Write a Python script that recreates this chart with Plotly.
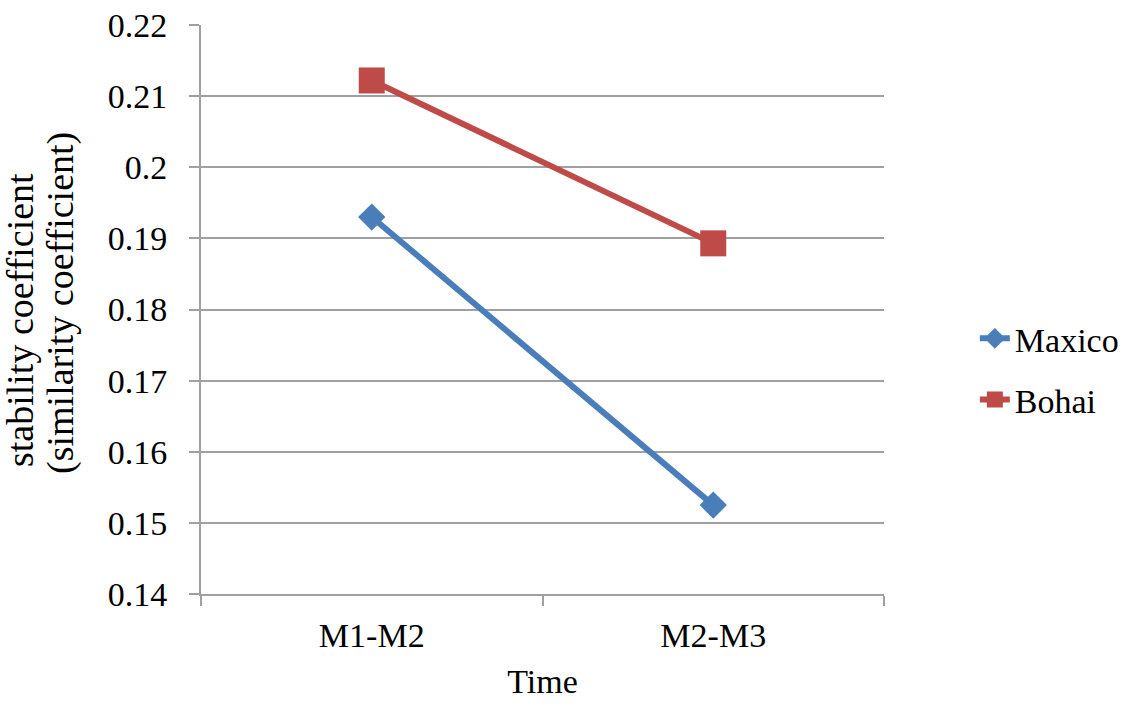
import plotly.graph_objects as go

# Data
periods = ["M1-M2", "M2-M3"]
maxico = [0.1930, 0.1525]
bohai = [0.2122, 0.1893]
y_tickvals = [0.14, 0.15, 0.16, 0.17, 0.18, 0.19, 0.20, 0.21, 0.22]
y_ticktext = ["0.14", "0.15", "0.16", "0.17", "0.18", "0.19", "0.2", "0.21", "0.22"]

FONT = "Liberation Serif"
AXIS_GREY = "#a0a0a0"

fig = go.Figure()
fig.add_trace(go.Scatter(
    x=periods, y=maxico, name="Maxico", mode="lines+markers",
    line=dict(color="#4a7ebb", width=6),
    marker=dict(symbol="diamond", size=21, color="#4a7ebb"),
    legendgroup="a",
))
fig.add_trace(go.Scatter(
    x=periods, y=bohai, name="Bohai", mode="lines+markers",
    line=dict(color="#be4b48", width=6),
    marker=dict(symbol="square", size=26, color="#be4b48"),
    legendgroup="b",
))

fig.update_layout(
    width=1126, height=706,
    margin=dict(l=201, r=242, t=25, b=112, autoexpand=False),
    paper_bgcolor="white", plot_bgcolor="white",
    font=dict(family=FONT, size=34, color="black"),
    showlegend=True,
    legend=dict(
        x=1.133, y=0.395, xanchor="left", yanchor="middle",
        traceorder="grouped", tracegroupgap=14,
        font=dict(family=FONT, size=34, color="black"),
        bgcolor="rgba(0,0,0,0)",
    ),
    xaxis=dict(
        type="category", range=[-0.5, 1.5],
        tickson="boundaries", ticks="outside", ticklen=10, tickwidth=2,
        tickcolor=AXIS_GREY, showline=True, linecolor=AXIS_GREY, linewidth=2,
        showgrid=False, zeroline=False,
        tickfont=dict(family=FONT, size=34, color="black"),
        ticklabelstandoff=10,
        title=dict(text="Time", font=dict(family=FONT, size=34, color="black"), standoff=16),
    ),
    yaxis=dict(
        range=[0.14, 0.22], tickvals=y_tickvals, ticktext=y_ticktext,
        ticks="outside", ticklen=10, tickwidth=2, tickcolor=AXIS_GREY,
        showline=True, linecolor=AXIS_GREY, linewidth=2,
        showgrid=True, gridcolor=AXIS_GREY, gridwidth=2, zeroline=False,
        tickfont=dict(family=FONT, size=34, color="black"),
        ticklabelstandoff=15,
    ),
)

# Two-line vertical axis title
fig.add_annotation(
    text="stability coefficient", xref="paper", yref="paper",
    x=-0.266, y=0.482, showarrow=False, textangle=-90,
    xanchor="center", yanchor="middle",
    font=dict(family=FONT, size=38, color="black"),
)
fig.add_annotation(
    text="(similarity coefficient)", xref="paper", yref="paper",
    x=-0.206, y=0.512, showarrow=False, textangle=-90,
    xanchor="center", yanchor="middle",
    font=dict(family=FONT, size=38, color="black"),
)

fig.write_html("out.html")
